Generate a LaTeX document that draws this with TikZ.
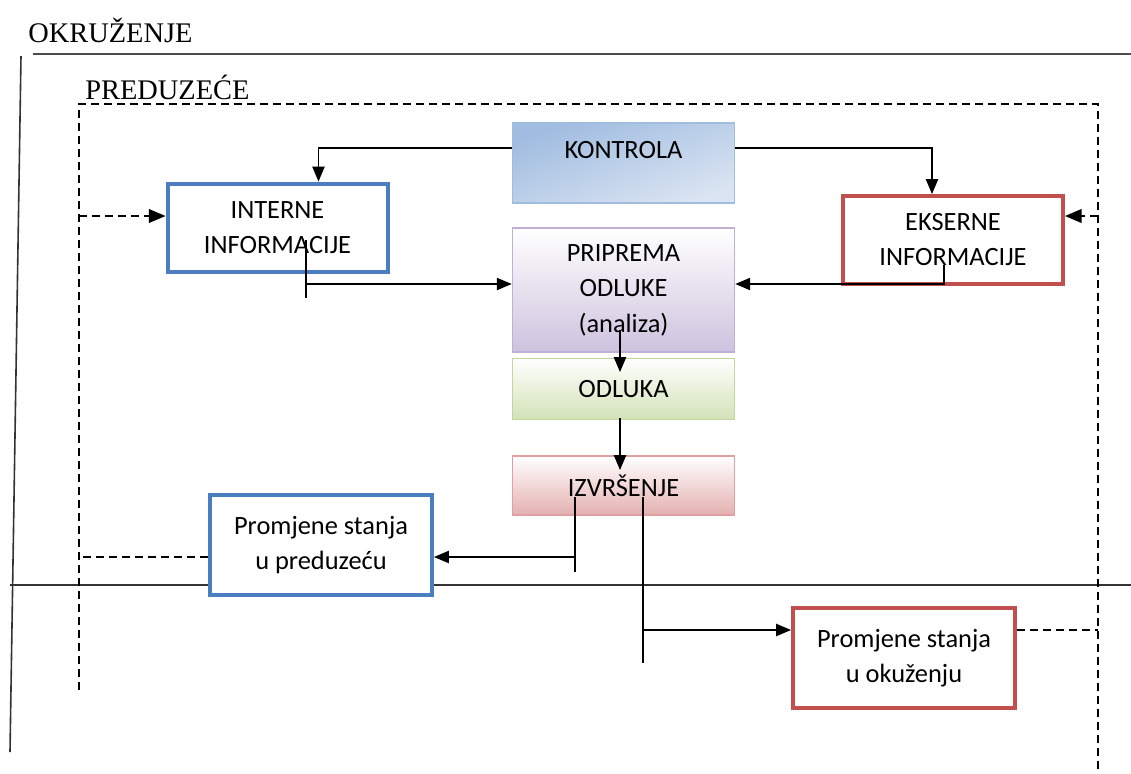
\documentclass[tikz,border=0pt]{standalone}
\usepackage{fontspec}
\setmainfont{Liberation Serif}
\newfontfamily\boxfont{Carlito}
\usepackage{tikz}
\usetikzlibrary{positioning}
\usetikzlibrary{arrows}

\definecolor{infoblue}{RGB}{74,126,190}
\definecolor{infored}{RGB}{192,80,77}
\definecolor{kontborder}{RGB}{160,188,222}
\definecolor{kontdark}{RGB}{160,188,224}
\definecolor{kontlight}{RGB}{218,228,242}
\definecolor{pripborder}{RGB}{190,176,214}
\definecolor{pripdark}{RGB}{206,194,222}
\definecolor{odlborder}{RGB}{196,214,160}
\definecolor{odldark}{RGB}{210,226,182}
\definecolor{izvborder}{RGB}{224,160,160}
\definecolor{izvdark}{RGB}{228,176,176}

\begin{document}
\begin{tikzpicture}[x=0.5pt,y=-0.5pt]

\tikzstyle{infobox}=[rectangle, minimum width=110pt, minimum height=44pt, line width=2pt, fill=white, align=center, font=\boxfont\fontsize{13.2}{17.5}\selectfont]
\tikzstyle{stagebox}=[rectangle, minimum width=111pt, inner sep=0pt, line width=0.8pt, align=center, font=\boxfont\fontsize{13.2}{17.8}\selectfont]
\tikzstyle{title}=[anchor=west, inner sep=0pt, font=\fontsize{14.2}{16}\selectfont]
\tikzstyle{line}=[line width=0.7pt]
\tikzstyle{dline}=[line width=0.9pt, dash pattern=on 4pt off 2.5pt]

\useasboundingbox (0,0) rectangle (1131,773);

% okruzenje i preduzece
\node[title] (okr) at (28,30) {OKRUŽENJE};
\node[title] (pred) at (85,87) {PREDUZEĆE};
\draw[line width=1pt, black!70] (33,54) -- (1131,54);
\draw[line width=0.8pt, black!80] (21,56) -- (10,752);
\draw[line width=0.8pt, black!80] (10,585) -- (1131,585);
\draw[dline] (79,690) -- (79,104) -- (1098,104) -- (1098,773);

% blokovi
\node[stagebox, minimum height=40pt, text depth=13pt, draw=kontborder, top color=kontdark, bottom color=kontlight, shading angle=20] (kontrola) at (623.5,163) {KONTROLA};
\node[infobox, draw=infoblue] (interne) at (277.5,227.5) {INTERNE\\INFORMACIJE};
\node[infobox, draw=infored] (eksterne) at (953,240) {EKSERNE\\INFORMACIJE};
\node[stagebox, minimum height=62pt, draw=pripborder, top color=white, bottom color=pripdark] (priprema) at (623.5,290) {PRIPREMA\\ODLUKE\\(analiza)};
\node[stagebox, minimum height=30.5pt, draw=odlborder, top color=white, bottom color=odldark, below=2.5pt of priprema] (odluka) {ODLUKA};
\node[stagebox, minimum height=29.5pt, draw=izvborder, top color=white, bottom color=izvdark] (izvrsenje) at (623.5,485.5) {IZVRŠENJE};
\node[infobox, minimum width=111pt, minimum height=50pt, draw=infoblue] (promp) at (321,545) {Promjene stanja\\u preduzeću};
\node[infobox, minimum width=111pt, minimum height=50pt, draw=infored] (promo) at (904,658) {Promjene stanja\\u okuženju};

% tocke prikljucka
\coordinate (kontw) at ([yshift=7.5pt]kontrola.west);
\coordinate (konte) at ([yshift=7.5pt]kontrola.east);
\coordinate (intn) at ([xshift=20.5pt]interne.north);
\coordinate (ekn) at ([xshift=-10.5pt]eksterne.north);
\coordinate (pripw) at ([yshift=3pt]priprema.west);
\coordinate (pripe) at ([yshift=3pt]priprema.east);
\coordinate (prompe) at ([yshift=-6pt]promp.east);
\coordinate (prompw) at ([yshift=-6pt]promp.west);
\coordinate (promow) at ([yshift=14pt]promo.west);
\coordinate (promoe) at ([yshift=14pt]promo.east);

% veze
\draw[line, -triangle 45] (kontw) -| (intn);
\draw[line, -triangle 45] (konte) -| (ekn);

\coordinate (intdown) at (306,298);
\coordinate (intup) at (306,240);
\draw[line] (intup) -- (intdown);
\draw[line, -triangle 45] (intup |- pripw) -- (pripw);

\coordinate (ekup) at (944,265);
\draw[line, -triangle 45] (ekup) |- (pripe);

\coordinate (pripin) at (620,330);
\coordinate (odlin) at (620,372);
\draw[line, -triangle 45] (pripin) -- (odlin);
\coordinate (odlout) at (620,418);
\coordinate (izvin) at (620,470);
\draw[line, -triangle 45] (odlout) -- (izvin);

\coordinate (izvl1) at (575,497);
\coordinate (izvl2) at (575,572);
\draw[line] (izvl1) -- (izvl2);
\draw[line, -triangle 45] (izvl1 |- prompe) -- (prompe);

\coordinate (izvr1) at (643,497);
\coordinate (izvr2) at (643,663);
\draw[line] (izvr1) -- (izvr2);
\draw[line, -triangle 45] (izvr1 |- promow) -- (promow);

% isprekidane veze
\coordinate (lint) at (79,216);
\coordinate (rint) at (1098,216);
\draw[dline, -triangle 45] (lint) -- (lint -| interne.west);
\draw[dline, -triangle 45] (rint) -- (rint -| eksterne.east);
\draw[dline] (prompw) -- (prompw -| lint);
\draw[dline] (promoe) -- (promoe -| rint);

\end{tikzpicture}
\end{document}
